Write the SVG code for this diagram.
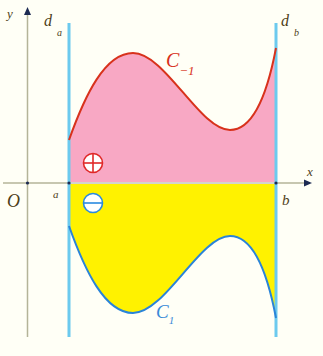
<svg xmlns="http://www.w3.org/2000/svg" width="323" height="356" viewBox="0 0 323 356">
<style>
.lbl{font-family:"Liberation Serif","DejaVu Serif",serif;font-style:italic;fill:#4e4018}
.axis{stroke:#b4b498;stroke-width:1.5;fill:none}
.vline{stroke:#6ccaee;stroke-width:3;fill:none}
.head{fill:#1c2a52}
</style>
<rect width="323" height="356" fill="#fffff6"/>
<g id="regions">
<path id="pink" d="M69,140 C85,95 105,53 133,53 C165,53 200,130 230,130 C255,130 268,90 276,48 L276,182 L69,182 Z" fill="#f8a8c4"/>
<path id="yellow" d="M69,226 C85,271 105,313 133,313 C165,313 200,236 230,236 C255,236 268,276 276,318 L276,184 L69,184 Z" fill="#fff200"/>
</g>
<g id="connectors">
<line class="axis" x1="3" y1="183" x2="306" y2="183"/>
<line x1="70" y1="183" x2="275" y2="183" stroke="#d4d4cc" stroke-width="2"/>
<polygon class="head" points="312,183 304,179.5 304,186.5"/>
<line class="axis" x1="27.5" y1="14" x2="27.5" y2="337"/>
<polygon class="head" points="27.5,7 24,15 31,15"/>
<line class="vline" x1="69" y1="23" x2="69" y2="337"/>
<line class="vline" x1="276" y1="23" x2="276" y2="337"/>
<circle cx="27.5" cy="183" r="1.6" class="head"/>
<circle cx="69" cy="183" r="1.6" class="head"/>
<circle cx="276" cy="183" r="1.6" class="head"/>
<path id="c-1" d="M69,140 C85,95 105,53 133,53 C165,53 200,130 230,130 C255,130 268,90 276,48" fill="none" stroke="#d8321c" stroke-width="2"/>
<path id="c1" d="M69,226 C85,271 105,313 133,313 C165,313 200,236 230,236 C255,236 268,276 276,318" fill="none" stroke="#2a84d8" stroke-width="2"/>
</g>
<g id="plus">
<circle cx="93" cy="163" r="9.5" fill="#fff" stroke="#e02828" stroke-width="1.6"/>
<line x1="83.5" y1="163" x2="102.5" y2="163" stroke="#e02828" stroke-width="1.6"/>
<line x1="93" y1="153.5" x2="93" y2="172.5" stroke="#e02828" stroke-width="1.6"/>
</g>
<g id="minus">
<circle cx="93" cy="203" r="9.5" fill="#fff" stroke="#2a8ae0" stroke-width="1.6"/>
<line x1="83.5" y1="203" x2="102.5" y2="203" stroke="#2a8ae0" stroke-width="1.6"/>
</g>
<g id="labels">
<text class="lbl" x="7" y="18" font-size="13">y</text>
<text class="lbl" x="44" y="26" font-size="16">d</text>
<text class="lbl" x="57" y="36" font-size="10">a</text>
<text class="lbl" x="281" y="26" font-size="16">d</text>
<text class="lbl" x="294" y="36" font-size="10">b</text>
<text class="lbl" x="7" y="207" font-size="18">O</text>
<text class="lbl" x="53" y="198" font-size="11">a</text>
<text class="lbl" x="282" y="205" font-size="15">b</text>
<text class="lbl" x="307" y="176" font-size="13">x</text>
<text x="166" y="67" font-family="Liberation Serif, serif" font-style="italic" font-size="20" fill="#d8321c">C<tspan font-size="13" dy="8">−1</tspan></text>
<text x="156" y="318" font-family="Liberation Serif, serif" font-style="italic" font-size="19" fill="#3a8ad8">C<tspan font-size="11" dy="6">1</tspan></text>
</g>
</svg>
